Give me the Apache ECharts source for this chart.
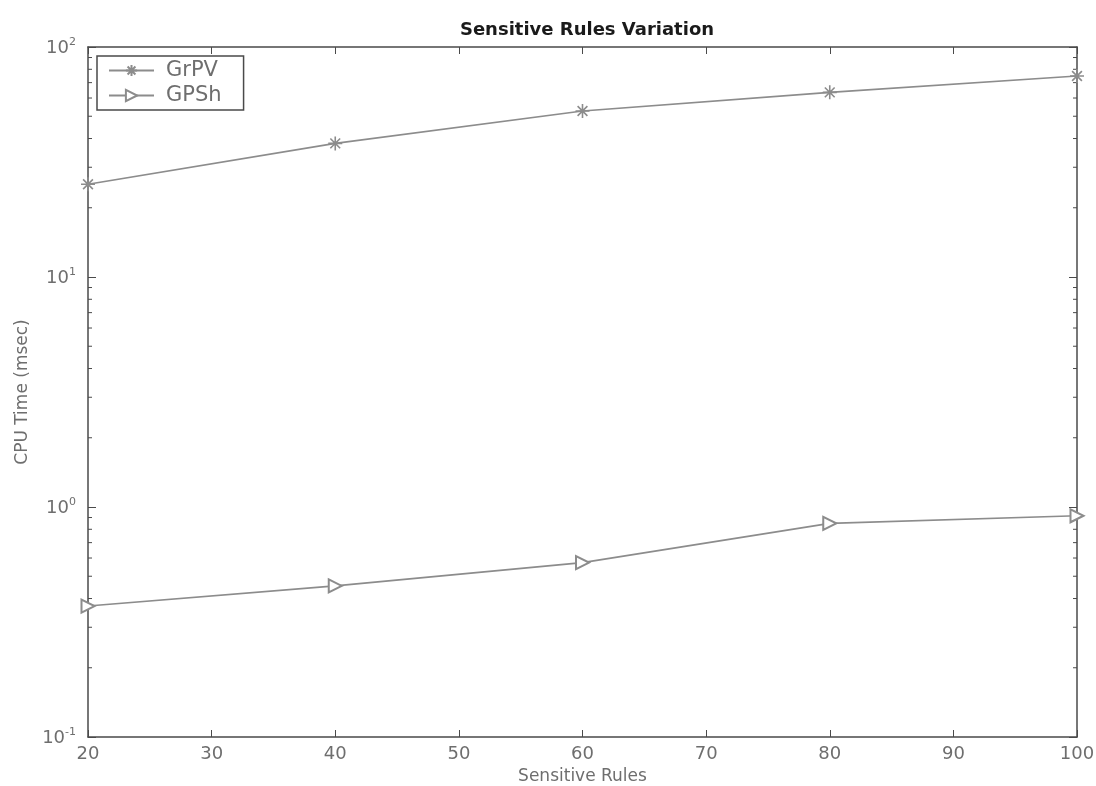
<!DOCTYPE html>
<html>
<head>
<meta charset="utf-8">
<title>Sensitive Rules Variation</title>
<script src="https://cdn.jsdelivr.net/npm/echarts@6/dist/echarts.min.js"></script>
<style>
  html, body { margin: 0; padding: 0; background: #fff; }
  #chart { width: 1096px; height: 786px; }
</style>
</head>
<body>
<div id="chart"></div>
<script>
// Number of sensitive rules on the x axis
const sensitiveRules = [20, 40, 60, 80, 100];
// CPU time in milliseconds per method
const grpvTime = [25.3, 38.1, 52.7, 63.5, 74.8];
const gpshTime = [0.371, 0.454, 0.573, 0.849, 0.916];
// Minor tick positions on the logarithmic y axis
const minorTickValues = [
  0.2, 0.3, 0.4, 0.5, 0.6, 0.7, 0.8, 0.9,
  2, 3, 4, 5, 6, 7, 8, 9,
  20, 30, 40, 50, 60, 70, 80, 90
];
const seriesNames = ['GrPV', 'GPSh'];

const axisColor = '#4a4a4a';
const textGray = '#6e6e6e';
const lineGray = '#8c8c8c';
const fontFamily = 'DejaVu Sans, Verdana, sans-serif';

// Asterisk marker: vertical, horizontal and two diagonal strokes
const asteriskPath = 'path://M0,-10L0,10M-10,0L10,0M-7,-7L7,7M-7,7L7,-7';

const expLabel = function (v) {
  const e = Math.round(Math.log10(v));
  return '{b|10}{s|' + e + '}';
};

const chart = echarts.init(document.getElementById('chart'), null, { renderer: 'canvas' });

chart.setOption({
  backgroundColor: '#ffffff',
  animation: false,
  title: {
    text: 'Sensitive Rules Variation',
    left: 582,
    textAlign: 'center',
    top: 16,
    textStyle: { fontFamily: fontFamily, fontSize: 18, fontWeight: 'bold', color: '#1a1a1a' }
  },
  legend: {
    data: seriesNames,
    orient: 'vertical',
    left: 97,
    top: 56,
    padding: [4, 22, 4, 11],
    itemGap: 4,
    itemWidth: 45,
    itemHeight: 14,
    borderColor: axisColor,
    borderWidth: 1.5,
    backgroundColor: '#fff',
    textStyle: { fontFamily: fontFamily, fontSize: 21, color: textGray, padding: [0, 0, 0, 7] }
  },
  grid: { left: 88, right: 19, top: 47, bottom: 49, containLabel: false, outerBoundsMode: 'none' },
  xAxis: [
    {
      type: 'value',
      min: 20, max: 100, interval: 10,
      name: 'Sensitive Rules',
      nameLocation: 'middle',
      nameGap: 29,
      nameTextStyle: { fontFamily: fontFamily, fontSize: 17, color: textGray },
      axisLine: { show: true, lineStyle: { color: axisColor, width: 1.5 } },
      axisTick: { show: true, inside: true, length: 7, lineStyle: { color: axisColor } },
      axisLabel: { fontFamily: fontFamily, fontSize: 18, color: textGray, margin: 8 },
      splitLine: { show: false }
    },
    {
      type: 'value',
      position: 'top',
      min: 20, max: 100, interval: 10,
      axisLine: { show: true, lineStyle: { color: axisColor, width: 1.5 } },
      axisTick: { show: true, inside: true, length: 7, lineStyle: { color: axisColor } },
      axisLabel: { show: false },
      splitLine: { show: false }
    }
  ],
  yAxis: [
    {
      type: 'log',
      logBase: 10,
      min: 0.1, max: 100,
      name: 'CPU Time (msec)',
      nameLocation: 'middle',
      nameGap: 53,
      nameTextStyle: { fontFamily: fontFamily, fontSize: 17, color: textGray },
      axisLine: { show: true, lineStyle: { color: axisColor, width: 1.5 } },
      axisTick: { show: true, inside: true, length: 8, lineStyle: { color: axisColor } },
      axisLabel: {
        formatter: expLabel,
        margin: 12,
        rich: {
          b: { fontFamily: fontFamily, fontSize: 18, color: textGray, verticalAlign: 'bottom' },
          s: { fontFamily: fontFamily, fontSize: 11, color: textGray, verticalAlign: 'top', padding: [0, 0, 10, 0] }
        }
      },
      splitLine: { show: false }
    },
    {
      type: 'log',
      logBase: 10,
      min: 0.1, max: 100,
      position: 'right',
      axisLine: { show: true, lineStyle: { color: axisColor, width: 1.5 } },
      axisTick: { show: true, inside: true, length: 8, lineStyle: { color: axisColor } },
      axisLabel: { show: false },
      splitLine: { show: false }
    }
  ],
  series: [
    {
      name: 'GrPV',
      type: 'line',
      data: sensitiveRules.map((x, i) => [x, grpvTime[i]]),
      symbol: asteriskPath,
      symbolSize: 14,
      showAllSymbol: true,
      lineStyle: { color: lineGray, width: 1.6 },
      itemStyle: { color: lineGray, borderColor: lineGray, borderWidth: 1.6 },
      clip: false,
      z: 3
    },
    {
      name: 'GPSh',
      type: 'line',
      data: sensitiveRules.map((x, i) => [x, gpshTime[i]]),
      symbol: 'emptyTriangle',
      symbolRotate: -90,
      symbolSize: 13,
      showAllSymbol: true,
      lineStyle: { color: lineGray, width: 1.6 },
      itemStyle: { color: lineGray, borderColor: lineGray, borderWidth: 1.4 },
      clip: false,
      z: 3
    },
    {
      // Minor ticks on the left and right edges of the log axis
      type: 'custom',
      silent: true,
      legendHoverLink: false,
      data: minorTickValues.map(v => [v]),
      renderItem: function (params, api) {
        const v = api.value(0);
        const left = api.coord([20, v]);
        const right = api.coord([100, v]);
        const style = { stroke: axisColor, lineWidth: 1 };
        return {
          type: 'group',
          children: [
            { type: 'line', shape: { x1: left[0], y1: left[1], x2: left[0] + 4, y2: left[1] }, style: style },
            { type: 'line', shape: { x1: right[0] - 4, y1: right[1], x2: right[0], y2: right[1] }, style: style }
          ]
        };
      },
      z: 1
    }
  ]
});
</script>
</body>
</html>
